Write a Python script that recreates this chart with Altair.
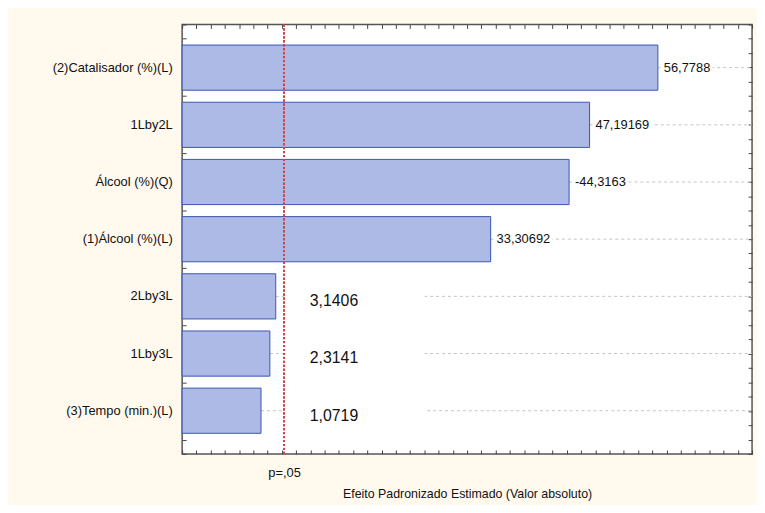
import altair as alt
import pandas as pd

# ---- data ----
terms = ["(2)Catalisador (%)(L)", "1Lby2L", "Álcool (%)(Q)", "(1)Álcool (%)(L)",
         "2Lby3L", "1Lby3L", "(3)Tempo (min.)(L)"]
effects = [56.7788, 47.19169, -44.3163, 33.30692, 3.1406, 2.3141, 1.0719]
labels = ["56,7788", "47,19169", "-44,3163", "33,30692", "3,1406", "2,3141", "1,0719"]
p_crit = 4.303
p_label = "p=,05"
x_title = "Efeito Padronizado Estimado (Valor absoluto)"
x_domain = [-10, 70]
x_tick_values = list(range(-10, 71, 2))
y_tick_domain = [0, 30]

df = pd.DataFrame({
    "term": terms,
    "effect": effects,
    "abs_effect": [abs(v) for v in effects],
    "label": labels,
})
df["significant"] = df["abs_effect"] > p_crit

W, H = 576, 434
FONT = "Liberation Sans"
xscale = alt.Scale(domain=x_domain, nice=False, zero=False)


def yband(axis=None):
    return alt.Y("term:N", sort=terms,
                 scale=alt.Scale(type="band", domain=terms,
                                 paddingInner=0.21, paddingOuter=0.36),
                 axis=axis)


def xq(axis=None):
    return alt.X("abs_effect:Q", scale=xscale, axis=axis)


base = alt.Chart(df)

grid = base.mark_rule(color="#C4C4C4", strokeDash=[3, 3], strokeWidth=1).encode(
    x=xq(), x2=alt.value(W), y=yband())

mask = base.transform_filter("!datum.significant").mark_rule(
    color="white", strokeWidth=4).encode(
    x=alt.X(datum=p_crit, type="quantitative", scale=xscale, axis=None),
    x2=alt.value(245), y=yband())

bars = base.mark_bar(fill="#AEBAE6", stroke="#3A55B0", strokeWidth=1).encode(
    x=xq(alt.Axis(orient="bottom", domain=False, ticks=False, grid=False,
                  values=[p_crit], labelExpr=f"'{p_label}'", title=x_title,
                  labelPadding=13, titlePadding=8, labelFontSize=13,
                  titleFontSize=12.5, labelColor="#111", titleColor="#111",
                  titleFontWeight="normal", labelFont=FONT, titleFont=FONT)),
    x2=alt.datum(x_domain[0]),
    y=yband(alt.Axis(orient="left", domain=False, ticks=False, grid=False, title=None,
                     labelPadding=10, labelFontSize=13, labelLimit=300,
                     labelColor="#111", labelFont=FONT)),
)

small_mask = base.transform_filter("datum.significant").mark_text(
    align="left", baseline="middle", dx=6, fontSize=13, font=FONT,
    fill="white", stroke="white", strokeWidth=6).encode(
    x=xq(), y=yband(), text="label:N")
small_text = base.transform_filter("datum.significant").mark_text(
    align="left", baseline="middle", dx=6, fontSize=13, font=FONT, color="#111").encode(
    x=xq(), y=yband(), text="label:N")
big_text = base.transform_filter("!datum.significant").mark_text(
    align="left", baseline="middle", dy=5, fontSize=16, font=FONT, color="#111").encode(
    x=alt.value(129), y=yband(), text="label:N")

pline = base.mark_rule(color="#D0454A", strokeDash=[2, 2], strokeWidth=1).encode(
    x=alt.X(datum=p_crit, type="quantitative", scale=xscale, axis=None))

tick_style = dict(labels=False, domain=False, grid=False, title=None,
                  tickSize=4, tickColor="#444", tickWidth=1)

top_ticks = base.mark_rule(opacity=0).encode(
    x=xq(alt.Axis(orient="bottom", offset=-H, values=x_tick_values, **tick_style)))
bottom_ticks = base.mark_rule(opacity=0).encode(
    x=xq(alt.Axis(orient="top", offset=-H, values=x_tick_values, **tick_style)))
left_ticks = base.mark_rule(opacity=0).encode(
    y=alt.Y(datum=0, type="quantitative",
            scale=alt.Scale(domain=y_tick_domain, nice=False, zero=False),
            axis=alt.Axis(orient="right", offset=-W, tickCount=30, **tick_style)))
right_ticks = base.mark_rule(opacity=0).encode(
    y=alt.Y(datum=0, type="quantitative",
            scale=alt.Scale(domain=y_tick_domain, nice=False, zero=False),
            axis=alt.Axis(orient="left", offset=-W, tickCount=30, **tick_style)))

chart = alt.layer(grid, mask, bars, small_mask, small_text, big_text, pline,
                  top_ticks, bottom_ticks, left_ticks, right_ticks).resolve_scale(
    y="independent").resolve_axis(x="independent", y="independent").properties(
    width=W, height=H,
    autosize=alt.AutoSizeParams(type="none"),
    padding={"left": 176, "top": 14, "right": 5, "bottom": 49},
    background="#FFF9EE",
).configure_view(stroke="#555555", strokeWidth=1.5, fill="white")

chart.save("out.html", embed_options={"renderer": "svg", "actions": False})
